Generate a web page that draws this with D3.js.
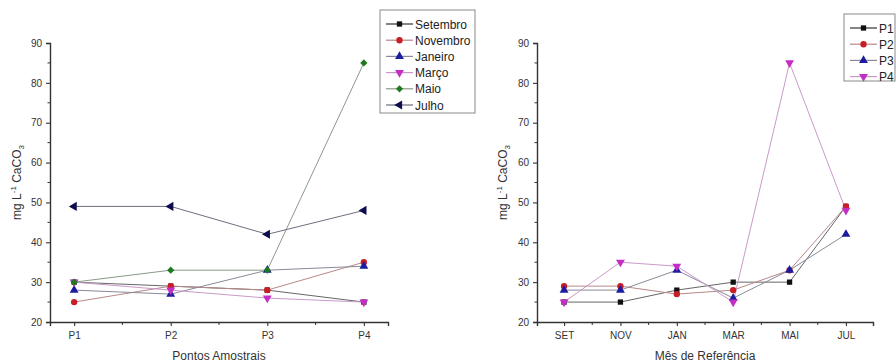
<!DOCTYPE html>
<html>
<head>
<meta charset="utf-8">
<script src="https://cdn.jsdelivr.net/npm/d3@7"></script>
<style>
html,body{margin:0;padding:0;background:#fff;}
svg{display:block;font-family:"Liberation Sans",Arial,sans-serif;}
</style>
</head>
<body>
<svg id="chart" width="896" height="364"></svg>
<script>
// ---- Data ----
const leftCategories = ["P1", "P2", "P3", "P4"];
const leftSeriesNames = ["Setembro", "Novembro", "Janeiro", "Março", "Maio", "Julho"];
const setembro = [30, 29, 28, 25];
const novembro = [25, 29, 28, 35];
const janeiro  = [28, 27, 33, 34];
const marco    = [30, 28, 26, 25];
const maio     = [30, 33, 33, 85];
const julho    = [49, 49, 42, 48];

const rightCategories = ["SET", "NOV", "JAN", "MAR", "MAI", "JUL"];
const rightSeriesNames = ["P1", "P2", "P3", "P4"];
const p1 = [25, 25, 28, 30, 30, 49];
const p2 = [29, 29, 27, 28, 33, 49];
const p3 = [28, 28, 33, 26, 33, 42];
const p4 = [25, 35, 34, 25, 85, 48];

const yTicks = [20, 30, 40, 50, 60, 70, 80, 90];

// ---- Styles ----
const styles = [
  {color: "#111111", line: "#666666", sym: d3.symbolSquare, size: 28, rot: 0},
  {color: "#c81e28", line: "#b88888", sym: d3.symbolCircle, size: 32, rot: 0},
  {color: "#1c1ca0", line: "#8a8a9a", sym: d3.symbolTriangle, size: 34, rot: 0},
  {color: "#c42ec4", line: "#c99ac9", sym: d3.symbolTriangle, size: 34, rot: 180},
  {color: "#1f7a1f", line: "#8a9a8a", sym: d3.symbolSquare, size: 26, rot: 45},
  {color: "#0d0d4d", line: "#6e6e80", sym: d3.symbolTriangle, size: 36, rot: -90}
];

const svg = d3.select("#chart");

function drawPanel(opts) {
  const {x0, x1, yTop, yBot, categories, series, names, xTitle, yTitleX, legend, xPad} = opts;
  const g = svg.append("g");
  const x = d3.scaleLinear().domain([1 - xPad, categories.length + xPad]).range([x0, x1]);
  const y = d3.scaleLinear().domain([20, 90]).range([yBot, yTop]);

  // Y axis
  const yAxis = d3.axisLeft(y).tickValues(yTicks).tickSize(4).tickPadding(4);
  const ya = g.append("g").attr("transform", `translate(${x0},0)`).call(yAxis);
  const yMinor = d3.range(25, 90, 10);
  g.append("g").selectAll("line").data(yMinor).join("line")
    .attr("x1", x0).attr("x2", x0 - 2.5)
    .attr("y1", d => y(d)).attr("y2", d => y(d))
    .attr("stroke", "#333").attr("stroke-width", 1);

  // X axis
  const xAxis = d3.axisBottom(x).tickValues(d3.range(1, categories.length + 1))
    .tickFormat(d => categories[d - 1]).tickSize(4).tickPadding(6);
  const xa = g.append("g").attr("transform", `translate(0,${yBot})`).call(xAxis);
  const xMinor = d3.range(1.5, categories.length, 1);
  g.append("g").selectAll("line").data(xMinor).join("line")
    .attr("x1", d => x(d)).attr("x2", d => x(d))
    .attr("y1", yBot).attr("y2", yBot + 3)
    .attr("stroke", "#333").attr("stroke-width", 1);

  [ya, xa].forEach(a => {
    a.select(".domain").attr("stroke", "#333").attr("stroke-width", 1.4);
    a.selectAll(".tick line").attr("stroke", "#333").attr("stroke-width", 1.1);
    a.selectAll(".tick text").attr("fill", "#333").attr("font-size", 10)
      .attr("font-family", "Liberation Sans, Arial, sans-serif");
  });

  // Axis titles
  g.append("text").attr("x", (x0 + x1) / 2).attr("y", 360)
    .attr("text-anchor", "middle").attr("font-size", 12).attr("fill", "#333")
    .text(xTitle);
  const yt = g.append("text")
    .attr("transform", `translate(${yTitleX},${(yTop + yBot) / 2}) rotate(-90)`)
    .attr("text-anchor", "middle").attr("font-size", 12).attr("fill", "#333");
  yt.append("tspan").text("mg L");
  yt.append("tspan").attr("font-size", 8).attr("dy", -5).text("-1");
  yt.append("tspan").attr("dy", 5).text(" CaCO");
  yt.append("tspan").attr("font-size", 8).attr("dy", 3).text("3");

  // Lines
  const line = d3.line().x((d, i) => x(i + 1)).y(d => y(d));
  series.forEach((vals, si) => {
    g.append("path").datum(vals).attr("d", line)
      .attr("fill", "none").attr("stroke", styles[si].line).attr("stroke-width", 1);
  });
  // Markers
  series.forEach((vals, si) => {
    const st = styles[si];
    g.append("g").selectAll("path").data(vals).join("path")
      .attr("d", d3.symbol().type(st.sym).size(st.size))
      .attr("transform", (d, i) => `translate(${x(i + 1)},${y(d)}) rotate(${st.rot})`)
      .attr("fill", st.color);
  });

  // Legend
  const lg = svg.append("g");
  lg.append("rect").attr("x", legend.x).attr("y", legend.y)
    .attr("width", legend.w).attr("height", legend.h)
    .attr("fill", "#fff").attr("stroke", "#8a8a8a").attr("stroke-width", 1);
  names.forEach((name, i) => {
    const st = styles[i];
    const cy = legend.y + 14 + i * 16.2;
    lg.append("line").attr("x1", legend.x + 6).attr("x2", legend.x + 33)
      .attr("y1", cy).attr("y2", cy).attr("stroke", st.line === "#666666" ? "#333" : st.line)
      .attr("stroke-width", 1.2);
    lg.append("path").attr("d", d3.symbol().type(st.sym).size(st.size))
      .attr("transform", `translate(${legend.x + 19.5},${cy}) rotate(${st.rot})`)
      .attr("fill", st.color);
    lg.append("text").attr("x", legend.x + 35).attr("y", cy + 4.5)
      .attr("font-size", 12).attr("fill", "#222").text(name);
  });
}

drawPanel({
  x0: 50, x1: 388, yTop: 43, yBot: 322,
  categories: leftCategories,
  series: [setembro, novembro, janeiro, marco, maio, julho],
  names: leftSeriesNames,
  xTitle: "Pontos Amostrais", yTitleX: 21, xPad: 0.25,
  legend: {x: 380, y: 10, w: 95, h: 103}
});

drawPanel({
  x0: 537, x1: 873, yTop: 43, yBot: 322,
  categories: rightCategories,
  series: [p1, p2, p3, p4],
  names: rightSeriesNames,
  xTitle: "Mês de Referência", yTitleX: 507, xPad: 0.48,
  legend: {x: 844, y: 14, w: 51, h: 67}
});
</script>
</body>
</html>
